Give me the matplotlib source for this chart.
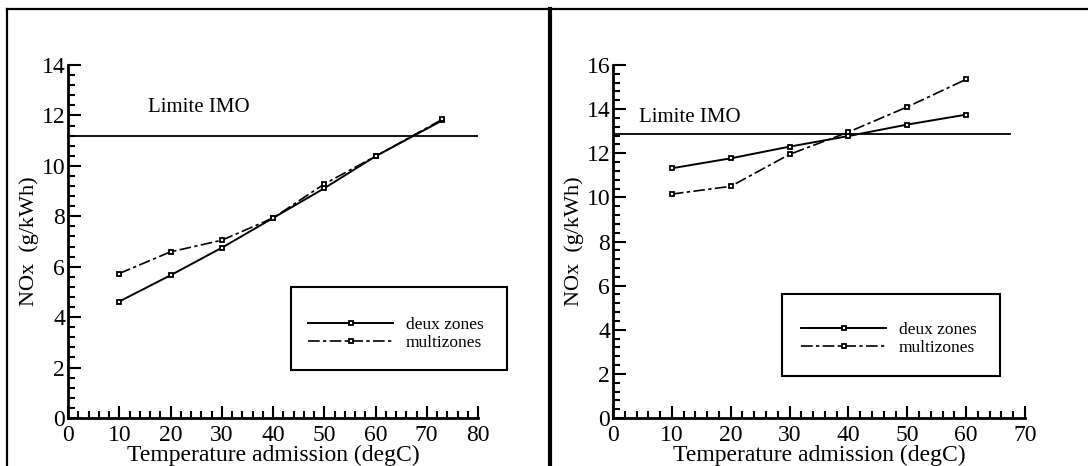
import matplotlib
matplotlib.use("Agg")
import matplotlib.pyplot as plt
from matplotlib.lines import Line2D
from matplotlib.patches import Rectangle
from matplotlib.ticker import MultipleLocator

# ---- donnees ----
temp_g = [10, 20, 30, 40, 50, 60, 73]
deux_g = [4.62, 5.66, 6.75, 7.93, 9.11, 10.38, 11.80]
multi_g = [5.73, 6.59, 7.05, 7.93, 9.28, 10.38, 11.84]
imo_g = 11.18

temp_d = [10, 20, 30, 40, 50, 60]
deux_d = [11.32, 11.77, 12.30, 12.78, 13.30, 13.75]
multi_d = [10.15, 10.50, 11.95, 12.96, 14.10, 15.35]
imo_d = 12.85

labelx = "Temperature admission (degC)"
labely = "NOx  (g/kWh)"
noms = ["deux zones", "multizones"]

plt.rcParams['font.family'] = ['Liberation Serif', 'DejaVu Serif']

W, H = 1088, 466
fig = plt.figure(figsize=(W / 100, H / 100), dpi=100)


def fx(px):
    return px / W


def fy(py):
    return 1 - py / H


tiret = (0, (7, 2, 2, 2))


def panneau(rect, xs, y1, y2, imo, xmax, ymax, imo_fin, txt_pos, leg_box, leg_anchor):
    ax = fig.add_axes(rect)
    ax.plot(xs, y1, color='black', lw=1.4, marker='s', ms=3.5, mfc='white', mec='black', mew=1.3)
    ax.plot(xs, y2, color='black', lw=1.2, ls=tiret, marker='s', ms=3.5, mfc='white', mec='black', mew=1.3)
    ax.axhline(imo, xmin=0, xmax=imo_fin, color='black', lw=1.3)
    ax.text(txt_pos[0], txt_pos[1], "Limite IMO", fontsize=15, va='center', ha='left')
    ax.set_xlim(0, xmax)
    ax.set_ylim(0, ymax)
    ax.xaxis.set_major_locator(MultipleLocator(10))
    ax.xaxis.set_minor_locator(MultipleLocator(2))
    ax.yaxis.set_major_locator(MultipleLocator(2))
    ax.yaxis.set_minor_locator(MultipleLocator(0.4))
    ax.tick_params(which='both', direction='in', width=1.5, labelsize=17)
    ax.tick_params(axis='x', pad=5)
    ax.tick_params(axis='y', pad=2)
    ax.tick_params(which='major', length=9)
    ax.tick_params(which='minor', length=5)
    for s in ['top', 'right']:
        ax.spines[s].set_visible(False)
    for s in ['left', 'bottom']:
        ax.spines[s].set_linewidth(2)
    ax.set_xlabel(labelx, fontsize=17, labelpad=-1)
    ax.set_ylabel(labely, fontsize=16, labelpad=2)
    ax.patch.set_alpha(0)
    # cadre de la legende
    x0, y0, x1, y1b = leg_box
    fig.add_artist(Rectangle((fx(x0), fy(y1b)), fx(x1) - fx(x0), fy(y0) - fy(y1b),
                             transform=fig.transFigure, fill=False, lw=1.5, ec='black'))
    ax.legend(noms, loc='center left', bbox_to_anchor=(fx(leg_anchor[0]), fy(leg_anchor[1])),
              bbox_transform=fig.transFigure, frameon=False, fontsize=12.5,
              handlelength=4.9, handletextpad=0.75, labelspacing=0.15, borderpad=0,
              borderaxespad=0, numpoints=1)
    return ax


panneau([fx(68), fy(418), fx(478) - fx(68), fy(65) - fy(418)],
        temp_g, deux_g, multi_g, imo_g, 80, 14, 1.0, (15.6, 12.3),
        (291, 287, 507, 370), (308, 334))
panneau([fx(613), fy(418), fx(1025) - fx(613), fy(65) - fy(418)],
        temp_d, deux_d, multi_d, imo_d, 70, 16, 67.5 / 70, (4.4, 13.6),
        (782, 294, 1000, 376), (801, 339))

# cadre general
fig.add_artist(Line2D([fx(7), 1], [fy(9), fy(9)], transform=fig.transFigure, color='black', lw=1.6))
fig.add_artist(Line2D([fx(7), fx(7)], [fy(9), 0], transform=fig.transFigure, color='black', lw=1.6))
fig.add_artist(Line2D([fx(549.5), fx(549.5)], [fy(9), 0], transform=fig.transFigure, color='black', lw=3))

plt.savefig("out.png", dpi=100)
